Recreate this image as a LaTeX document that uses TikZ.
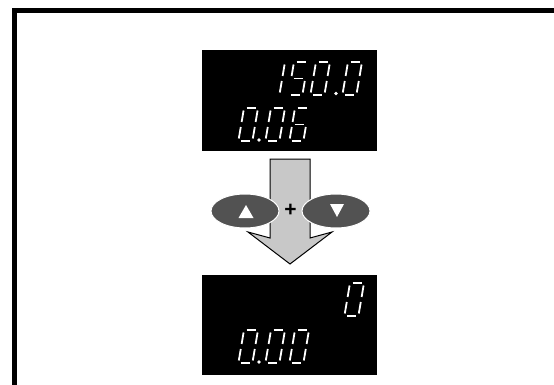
\documentclass[tikz,border=0pt]{standalone}
\usepackage{fontspec}
\setsansfont{Liberation Sans}
\usepackage{tikz}
\usepackage{xcolor}
\definecolor{arrowgray}{RGB}{200,200,200}
\definecolor{keygray}{RGB}{82,82,82}
\tikzset{
  seg/.style={white, line width=1.8pt, line cap=butt},
  display/.style={fill=black},
  keybtn/.style={fill=keygray, draw=white, line width=1pt},
}
% segments of one digit (width 14, height 33, y down)
\def\sga{(2.5,0) -- (11.5,0)}
\def\sgb{(14,2.5) -- (14,14)}
\def\sgc{(14,19) -- (14,30.5)}
\def\sgd{(2.5,33) -- (11.5,33)}
\def\sge{(0,19) -- (0,30.5)}
\def\sgf{(0,2.5) -- (0,14)}
\def\sgg{(2.5,16.5) -- (11.5,16.5)}
\newcommand{\segdigit}[3]{%
  \begin{scope}[shift={(#1,#2)}, xslant=0.17]
    \foreach \s in {#3} {\draw[seg] \csname sg\s\endcsname;}
  \end{scope}}

\begin{document}
\begin{tikzpicture}[x=1pt, y=-1pt]
  \useasboundingbox (0,0) rectangle (554,385);

  % Frame
  \draw[line width=5pt] (14,385) -- (14,11) -- (554,11);

  % Displays
  \fill[display] (202,50) rectangle (377,151);
  \fill[display] (202,275) rectangle (377,375);

  % 150.0 / 0.06
  \segdigit{271}{62}{b,c}
  \segdigit{294}{62}{a,f,g,c,d}
  \segdigit{316}{62}{a,b,c,d,e,f}
  \fill[white] (336,93.5) circle (1.8);
  \segdigit{348}{62}{a,b,c,d,e,f}

  \segdigit{244}{108}{a,b,c,d,e,f}
  \fill[white] (259,140) circle (1.8);
  \segdigit{271}{108}{a,b,c,d,e,f}
  \segdigit{295}{108}{a,f,g,e,c,d}

  % 0 / 0.00
  \segdigit{350}{283}{a,b,c,d,e,f}

  \segdigit{244}{330}{a,b,c,d,e,f}
  \fill[white] (259,362) circle (1.8);
  \segdigit{271}{330}{a,b,c,d,e,f}
  \segdigit{295}{330}{a,b,c,d,e,f}

  % Arrow
  \draw[fill=arrowgray, line width=1pt, line join=miter]
    (270,159) -- (310,159) -- (310,238) -- (332,232) -- (290,264)
    -- (248,232) -- (270,238) -- cycle;

  % Keys
  \draw[keybtn] (245,211) ellipse (34 and 17);
  \draw[keybtn] (336,211) ellipse (34 and 17);
  \fill[white] (238.5,218) -- (253.5,218) -- (246,205) -- cycle;
  \fill[white] (330,204) -- (344,204) -- (337,217) -- cycle;
  \node (plus) at (290.5,210.5) {\sffamily\bfseries\fontsize{21}{21}\selectfont +};
\end{tikzpicture}
\end{document}
